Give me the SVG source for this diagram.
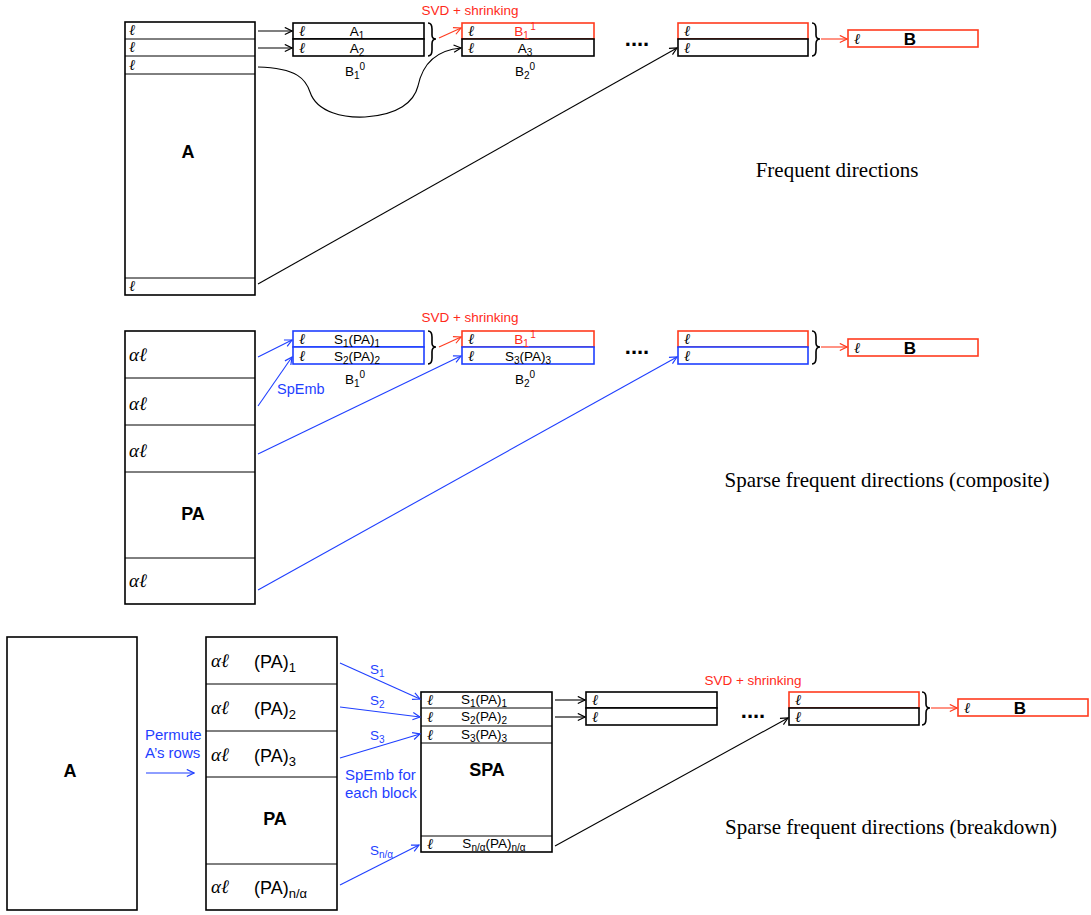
<svg xmlns="http://www.w3.org/2000/svg" width="1091" height="915" viewBox="0 0 1091 915">
<style>
  .bx{fill:#fff;stroke:#000;stroke-width:1.6}
  .bxr{fill:#fff;stroke:#ff3b1f;stroke-width:1.6}
  .bxb{fill:#fff;stroke:#1f3fff;stroke-width:1.6}
  .ln{stroke:#000;stroke-width:1.1;fill:none}
  .lnb{stroke:#1f3fff;stroke-width:1.1;fill:none}
  .lnr{stroke:#ff3b1f;stroke-width:1.1;fill:none}
  .sep{stroke:#000;stroke-width:1}
  .ell{font-family:"Liberation Serif","DejaVu Serif",serif;font-style:italic;font-size:15px;fill:#000}
  .al{font-family:"Liberation Serif","DejaVu Serif",serif;font-style:italic;font-size:19px;fill:#000}
  .t{font-family:"Liberation Sans",Arial,sans-serif;font-size:13.5px;fill:#000}
  .tr{font-family:"Liberation Sans",Arial,sans-serif;font-size:13.5px;fill:#ff2a1a}
  .tb{font-family:"Liberation Sans",Arial,sans-serif;font-size:13.5px;fill:#1f3fff}
  .tbl{font-family:"Liberation Sans",Arial,sans-serif;font-size:15px;fill:#1f3fff}
  .pa{font-family:"Liberation Sans",Arial,sans-serif;font-size:18px;fill:#000}
  .big{font-family:"Liberation Sans",Arial,sans-serif;font-size:18px;font-weight:bold;fill:#000}
  .bb{font-family:"Liberation Sans",Arial,sans-serif;font-size:17px;font-weight:bold;fill:#000}
  .dots{font-family:"Liberation Sans",Arial,sans-serif;font-size:22px;font-weight:bold;fill:#000}
  .cap{font-family:"Liberation Serif","Times New Roman",serif;font-size:21px;fill:#000}
  .sub{font-size:10px}
  .psub{font-size:13px}
  .brace{stroke:#000;stroke-width:1.6;fill:none}
</style>
<defs>
  <marker id="ak" viewBox="0 0 10 10" refX="9" refY="5" markerWidth="9" markerHeight="9" markerUnits="userSpaceOnUse" orient="auto"><path d="M1,1 L9,5 L1,9" fill="none" stroke="#000" stroke-width="1.3"/></marker>
  <marker id="ar" viewBox="0 0 10 10" refX="9" refY="5" markerWidth="9" markerHeight="9" markerUnits="userSpaceOnUse" orient="auto"><path d="M1,1 L9,5 L1,9" fill="none" stroke="#ff3b1f" stroke-width="1.3"/></marker>
  <marker id="ab" viewBox="0 0 10 10" refX="9" refY="5" markerWidth="9" markerHeight="9" markerUnits="userSpaceOnUse" orient="auto"><path d="M1,1 L9,5 L1,9" fill="none" stroke="#1f3fff" stroke-width="1.3"/></marker>
</defs>
<rect width="1091" height="915" fill="#fff"/>

<!-- ===== TOP: Frequent directions ===== -->
<g id="top-A">
  <rect class="bx" x="125" y="22" width="130" height="273"/>
  <line class="sep" x1="125" y1="39" x2="255" y2="39"/>
  <line class="sep" x1="125" y1="56" x2="255" y2="56"/>
  <line class="sep" x1="125" y1="74" x2="255" y2="74"/>
  <line class="sep" x1="125" y1="278" x2="255" y2="278"/>
  <text class="ell" x="129" y="35">ℓ</text>
  <text class="ell" x="129" y="52">ℓ</text>
  <text class="ell" x="129" y="70">ℓ</text>
  <text class="ell" x="129" y="291">ℓ</text>
  <text class="big" x="188" y="158" text-anchor="middle">A</text>
</g>
<g id="top-B10">
  <rect class="bx" x="293" y="23" width="131" height="16"/>
  <rect class="bx" x="293" y="39" width="131" height="17"/>
  <text class="ell" x="299" y="36">ℓ</text>
  <text class="ell" x="299" y="53">ℓ</text>
  <text class="t" x="357" y="36" text-anchor="middle">A<tspan class="sub" dy="3">1</tspan></text>
  <text class="t" x="357" y="53" text-anchor="middle">A<tspan class="sub" dy="3">2</tspan></text>
  <text class="t" x="355" y="76" text-anchor="middle">B<tspan class="sub" dy="3">1</tspan><tspan class="sub" dy="-9">0</tspan></text>
  <path class="brace" d="M428,23 Q432,23 432,29 L432,35 Q432,39 436,39 Q432,39 432,44 L432,50 Q432,56 428,56"/>
</g>
<g id="top-B11">
  <text class="tr" x="470" y="15" text-anchor="middle">SVD + shrinking</text>
  <rect class="bxr" x="462" y="23" width="132" height="16"/>
  <rect class="bx" x="462" y="39" width="132" height="17"/>
  <text class="ell" x="468" y="36">ℓ</text>
  <text class="ell" x="468" y="53">ℓ</text>
  <text class="tr" x="525" y="36" text-anchor="middle">B<tspan class="sub" dy="3">1</tspan><tspan class="sub" dy="-9" dx="2">1</tspan></text>
  <text class="t" x="525" y="53" text-anchor="middle">A<tspan class="sub" dy="3">3</tspan></text>
  <text class="t" x="525" y="76" text-anchor="middle">B<tspan class="sub" dy="3">2</tspan><tspan class="sub" dy="-9">0</tspan></text>
</g>
<text class="dots" x="637" y="46" text-anchor="middle">....</text>
<g id="top-Bk">
  <rect class="bxr" x="678" y="23" width="130" height="16"/>
  <rect class="bx" x="678" y="39" width="130" height="17"/>
  <text class="ell" x="684" y="36">ℓ</text>
  <text class="ell" x="684" y="53">ℓ</text>
  <path class="brace" d="M812,23 Q816,23 816,29 L816,35 Q816,39 820,39 Q816,39 816,44 L816,50 Q816,56 812,56"/>
</g>
<g id="top-B">
  <rect class="bxr" x="848" y="30" width="130" height="17"/>
  <text class="ell" x="854" y="44">ℓ</text>
  <text class="bb" x="910" y="45" text-anchor="middle">B</text>
</g>
<text class="cap" x="837" y="177" text-anchor="middle">Frequent directions</text>

<!-- ===== MIDDLE: Sparse FD composite ===== -->
<g id="mid-PA">
  <rect class="bx" x="125" y="331" width="130" height="273"/>
  <line class="sep" x1="125" y1="378" x2="255" y2="378"/>
  <line class="sep" x1="125" y1="425" x2="255" y2="425"/>
  <line class="sep" x1="125" y1="472" x2="255" y2="472"/>
  <line class="sep" x1="125" y1="558" x2="255" y2="558"/>
  <text class="al" x="129" y="361">αℓ</text>
  <text class="al" x="129" y="410">αℓ</text>
  <text class="al" x="129" y="457">αℓ</text>
  <text class="al" x="129" y="587">αℓ</text>
  <text class="big" x="193" y="520" text-anchor="middle">PA</text>
</g>
<g id="mid-B10">
  <rect class="bxb" x="293" y="331" width="131" height="16"/>
  <rect class="bxb" x="293" y="347" width="131" height="17"/>
  <text class="ell" x="299" y="344">ℓ</text>
  <text class="ell" x="299" y="361">ℓ</text>
  <text class="t" x="357" y="344" text-anchor="middle">S<tspan class="sub" dy="3">1</tspan><tspan dy="-3">(PA)</tspan><tspan class="sub" dy="3">1</tspan></text>
  <text class="t" x="357" y="361" text-anchor="middle">S<tspan class="sub" dy="3">2</tspan><tspan dy="-3">(PA)</tspan><tspan class="sub" dy="3">2</tspan></text>
  <text class="t" x="355" y="384" text-anchor="middle">B<tspan class="sub" dy="3">1</tspan><tspan class="sub" dy="-9">0</tspan></text>
  <path class="brace" d="M428,331 Q432,331 432,337 L432,343 Q432,347 436,347 Q432,347 432,352 L432,358 Q432,364 428,364"/>
  <text class="tb" x="277" y="394" style="font-size:14.5px">SpEmb</text>
</g>
<g id="mid-B11">
  <text class="tr" x="470" y="322" text-anchor="middle">SVD + shrinking</text>
  <rect class="bxr" x="462" y="331" width="132" height="16"/>
  <rect class="bxb" x="462" y="347" width="132" height="17"/>
  <text class="ell" x="468" y="344">ℓ</text>
  <text class="ell" x="468" y="361">ℓ</text>
  <text class="tr" x="525" y="344" text-anchor="middle">B<tspan class="sub" dy="3">1</tspan><tspan class="sub" dy="-9" dx="2">1</tspan></text>
  <text class="t" x="528" y="361" text-anchor="middle">S<tspan class="sub" dy="3">3</tspan><tspan dy="-3">(PA)</tspan><tspan class="sub" dy="3">3</tspan></text>
  <text class="t" x="525" y="384" text-anchor="middle">B<tspan class="sub" dy="3">2</tspan><tspan class="sub" dy="-9">0</tspan></text>
</g>
<text class="dots" x="637" y="354" text-anchor="middle">....</text>
<g id="mid-Bk">
  <rect class="bxr" x="678" y="331" width="130" height="16"/>
  <rect class="bxb" x="678" y="347" width="130" height="17"/>
  <text class="ell" x="684" y="344">ℓ</text>
  <text class="ell" x="684" y="361">ℓ</text>
  <path class="brace" d="M812,331 Q816,331 816,337 L816,343 Q816,347 820,347 Q816,347 816,352 L816,358 Q816,364 812,364"/>
</g>
<g id="mid-B">
  <rect class="bxr" x="848" y="339" width="130" height="17"/>
  <text class="ell" x="854" y="353">ℓ</text>
  <text class="bb" x="910" y="354" text-anchor="middle">B</text>
</g>
<text class="cap" x="887" y="487" text-anchor="middle">Sparse frequent directions (composite)</text>

<!-- ===== BOTTOM: Sparse FD breakdown ===== -->
<g id="bot-A">
  <rect class="bx" x="7" y="637" width="130" height="273"/>
  <text class="big" x="70" y="777" text-anchor="middle">A</text>
</g>
<g id="bot-permute">
  <text class="tbl" x="145" y="740">Permute</text>
  <text class="tbl" x="145" y="758">A’s rows</text>
</g>
<g id="bot-PA">
  <rect class="bx" x="206" y="637" width="131" height="273"/>
  <line class="sep" x1="206" y1="684" x2="337" y2="684"/>
  <line class="sep" x1="206" y1="731" x2="337" y2="731"/>
  <line class="sep" x1="206" y1="777" x2="337" y2="777"/>
  <line class="sep" x1="206" y1="864" x2="337" y2="864"/>
  <text class="al" x="211" y="667">αℓ</text>
  <text class="al" x="211" y="714">αℓ</text>
  <text class="al" x="211" y="761">αℓ</text>
  <text class="al" x="211" y="893">αℓ</text>
  <text class="pa" x="254" y="668">(PA)<tspan class="psub" dy="4">1</tspan></text>
  <text class="pa" x="254" y="715">(PA)<tspan class="psub" dy="4">2</tspan></text>
  <text class="pa" x="254" y="762">(PA)<tspan class="psub" dy="4">3</tspan></text>
  <text class="pa" x="254" y="894">(PA)<tspan class="psub" dy="4">n/α</tspan></text>
  <text class="big" x="275" y="825" text-anchor="middle">PA</text>
</g>
<g id="bot-labels">
  <text class="tb" x="370" y="674">S<tspan class="sub" dy="3">1</tspan></text>
  <text class="tb" x="370" y="705">S<tspan class="sub" dy="3">2</tspan></text>
  <text class="tb" x="370" y="740">S<tspan class="sub" dy="3">3</tspan></text>
  <text class="tb" x="370" y="855">S<tspan class="sub" dy="3">n/α</tspan></text>
  <text class="tbl" x="345" y="780">SpEmb for</text>
  <text class="tbl" x="345" y="798">each block</text>
</g>
<g id="bot-SPA">
  <rect class="bx" x="421" y="692" width="131" height="160"/>
  <line class="sep" x1="421" y1="708" x2="552" y2="708"/>
  <line class="sep" x1="421" y1="726" x2="552" y2="726"/>
  <line class="sep" x1="421" y1="743" x2="552" y2="743"/>
  <line class="sep" x1="421" y1="836" x2="552" y2="836"/>
  <text class="ell" x="427" y="705">ℓ</text>
  <text class="ell" x="427" y="722">ℓ</text>
  <text class="ell" x="427" y="740">ℓ</text>
  <text class="ell" x="427" y="849">ℓ</text>
  <text class="t" x="484" y="704" text-anchor="middle">S<tspan class="sub" dy="3">1</tspan><tspan dy="-3">(PA)</tspan><tspan class="sub" dy="3">1</tspan></text>
  <text class="t" x="484" y="721" text-anchor="middle">S<tspan class="sub" dy="3">2</tspan><tspan dy="-3">(PA)</tspan><tspan class="sub" dy="3">2</tspan></text>
  <text class="t" x="484" y="739" text-anchor="middle">S<tspan class="sub" dy="3">3</tspan><tspan dy="-3">(PA)</tspan><tspan class="sub" dy="3">3</tspan></text>
  <text class="t" x="494" y="848" text-anchor="middle">S<tspan class="sub" dy="3">n/α</tspan><tspan dy="-3">(PA)</tspan><tspan class="sub" dy="3">n/α</tspan></text>
  <text class="big" x="487" y="776" text-anchor="middle">SPA</text>
</g>
<g id="bot-B10">
  <rect class="bx" x="586" y="692" width="131" height="16"/>
  <rect class="bx" x="586" y="708" width="131" height="17"/>
  <text class="ell" x="592" y="705">ℓ</text>
  <text class="ell" x="592" y="722">ℓ</text>
</g>
<text class="dots" x="753" y="718" text-anchor="middle">....</text>
<g id="bot-Bk">
  <text class="tr" x="753" y="685" text-anchor="middle">SVD + shrinking</text>
  <rect class="bxr" x="789" y="692" width="130" height="16"/>
  <rect class="bx" x="789" y="708" width="130" height="17"/>
  <text class="ell" x="795" y="705">ℓ</text>
  <text class="ell" x="795" y="722">ℓ</text>
  <path class="brace" d="M922,692 Q926,692 926,698 L926,704 Q926,708 930,708 Q926,708 926,713 L926,719 Q926,725 922,725"/>
</g>
<g id="bot-B">
  <rect class="bxr" x="958" y="699" width="130" height="17"/>
  <text class="ell" x="964" y="713">ℓ</text>
  <text class="bb" x="1020" y="714" text-anchor="middle">B</text>
</g>
<text class="cap" x="891" y="834" text-anchor="middle">Sparse frequent directions (breakdown)</text>

<!-- ===== Connectors ===== -->
<g id="connectors">
  <line class="ln" x1="258" y1="31" x2="292" y2="31" marker-end="url(#ak)"/>
  <line class="ln" x1="258" y1="48" x2="292" y2="48" marker-end="url(#ak)"/>
  <path class="ln" d="M258,67 C298,68 306,80 310,92 C317,113 345,118 365,117 C398,115 414,102 418,86 C423,62 438,50 461,48" marker-end="url(#ak)"/>
  <line class="lnr" x1="439" y1="38" x2="461" y2="28" marker-end="url(#ar)"/>
  <line class="ln" x1="258" y1="284" x2="677" y2="48" marker-end="url(#ak)"/>
  <line class="lnr" x1="821" y1="39" x2="847" y2="39" marker-end="url(#ar)"/>
  <line class="lnb" x1="258" y1="357" x2="292" y2="340" marker-end="url(#ab)"/>
  <line class="lnb" x1="258" y1="406" x2="292" y2="357" marker-end="url(#ab)"/>
  <line class="lnr" x1="439" y1="347" x2="461" y2="337" marker-end="url(#ar)"/>
  <line class="lnb" x1="258" y1="454" x2="461" y2="356" marker-end="url(#ab)"/>
  <line class="lnb" x1="258" y1="590" x2="677" y2="357" marker-end="url(#ab)"/>
  <line class="lnr" x1="821" y1="347" x2="847" y2="347" marker-end="url(#ar)"/>
  <line class="lnb" x1="146" y1="773" x2="194" y2="773" marker-end="url(#ab)"/>
  <line class="lnb" x1="340" y1="663" x2="420" y2="699" marker-end="url(#ab)"/>
  <line class="lnb" x1="340" y1="707" x2="420" y2="717" marker-end="url(#ab)"/>
  <line class="lnb" x1="340" y1="758" x2="420" y2="734" marker-end="url(#ab)"/>
  <line class="lnb" x1="340" y1="885" x2="419" y2="845" marker-end="url(#ab)"/>
  <line class="ln" x1="555" y1="700" x2="585" y2="700" marker-end="url(#ak)"/>
  <line class="ln" x1="555" y1="717" x2="585" y2="717" marker-end="url(#ak)"/>
  <line class="ln" x1="555" y1="846" x2="788" y2="718" marker-end="url(#ak)"/>
  <line class="lnr" x1="931" y1="708" x2="957" y2="708" marker-end="url(#ar)"/>
</g>
</svg>
